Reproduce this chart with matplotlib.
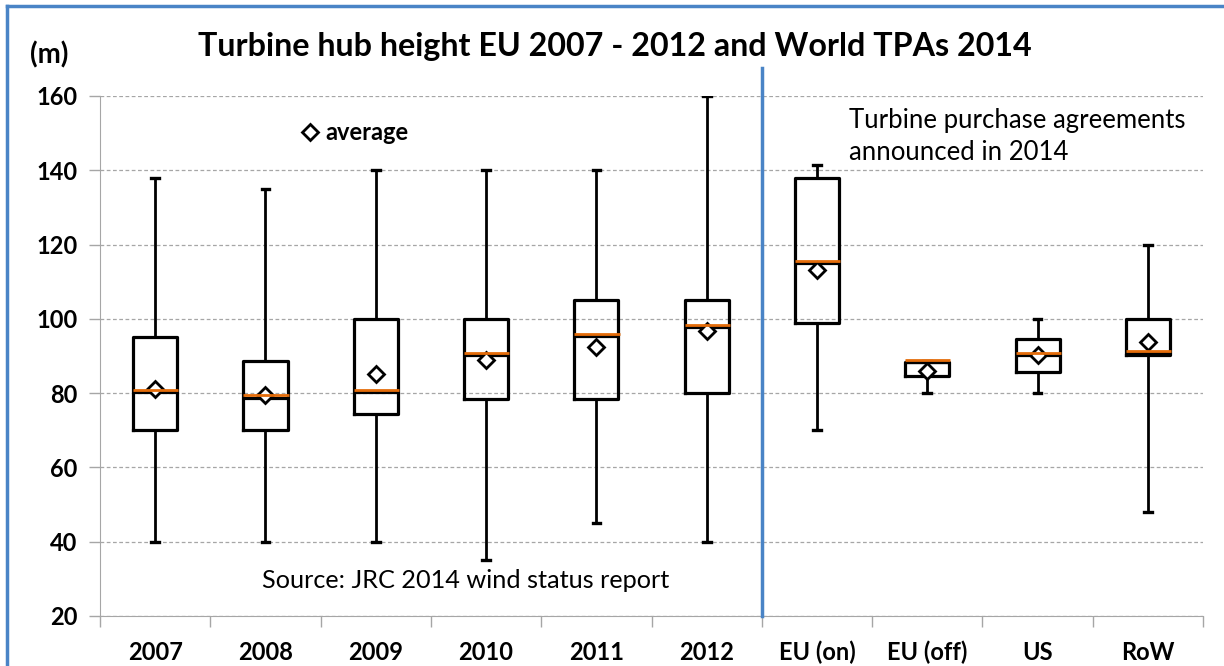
import matplotlib
matplotlib.use("Agg")
import matplotlib.pyplot as plt
from matplotlib.transforms import offset_copy
from matplotlib.lines import Line2D

plt.rcParams["font.family"] = ["Lato", "DejaVu Sans"]

categories = ["2007", "2008", "2009", "2010", "2011", "2012",
              "EU (on)", "EU (off)", "US", "RoW"]
whisker_low = [40, 40, 40, 35, 45, 40, 70, 80, 80, 48]
q1 = [70, 70, 74.3, 78.5, 78.5, 80, 99, 84.5, 85.6, 90.2]
median = [80.2, 78.8, 80.2, 90.2, 95.4, 97.8, 115.1, 88.4, 90.2, 90.8]
q3 = [95, 88.6, 100, 100, 105, 105.2, 137.8, 88.4, 94.6, 100]
whisker_high = [138, 135, 140, 140, 140, 160, 141.4, 88.6, 100, 120]
average = [81, 79.5, 85.2, 89, 92.5, 96.8, 113.1, 86, 90.2, 93.7]
y_ticks = [20, 40, 60, 80, 100, 120, 140, 160]

orange = "#E46C0A"
blue = "#4A84C6"
grey = "#A6A6A6"

stats = []
for i, name in enumerate(categories):
    stats.append({"label": name, "whislo": whisker_low[i], "q1": q1[i], "med": median[i],
                  "q3": q3[i], "whishi": whisker_high[i], "mean": average[i]})

fig = plt.figure(figsize=(12.24, 6.66), dpi=100)
ax = fig.add_axes([0.0817, 0.0751, 0.9012, 0.7808])

pos = list(range(len(categories)))
ax.bxp(stats, positions=pos, widths=0.4, capwidths=0.07, showmeans=True,
       showfliers=False, manage_ticks=False,
       boxprops=dict(color="black", linewidth=2.3),
       whiskerprops=dict(color="black", linewidth=2.0),
       capprops=dict(color="black", linewidth=2.4),
       medianprops=dict(color="black", linewidth=2.3),
       meanprops=dict(marker="D", markersize=8.5, markerfacecolor="white",
                      markeredgecolor="black", markeredgewidth=2.0),
       zorder=3)

# orange median line, sitting just on top of the black one
up = offset_copy(ax.transData, fig=fig, x=0, y=2.2, units="dots")
for p, m in zip(pos, median):
    ax.plot([p - 0.2, p + 0.21], [m, m], color=orange, lw=2.0, transform=up,
            zorder=4, solid_capstyle="butt")

ax.set_xlim(-0.5, 9.5)
ax.set_ylim(20, 160)
ax.set_yticks(y_ticks)
ax.set_yticklabels([str(v) for v in y_ticks], fontsize=17, fontweight="bold")
ax.set_xticks(pos)
ax.set_xticklabels(categories, fontsize=17, fontweight="bold")
ax.tick_params(axis="x", length=0, pad=18)
ax.set_xticks([p - 0.5 for p in pos] + [9.5], minor=True)
ax.tick_params(axis="x", which="minor", length=8, color=grey, width=1)
ax.tick_params(axis="y", length=8, color=grey, width=1, pad=8)

for s in ["top", "right"]:
    ax.spines[s].set_visible(False)
ax.spines["left"].set_color(grey)
ax.spines["bottom"].set_color(grey)
ax.yaxis.grid(True, linestyle=(0, (3, 2)), color=grey, linewidth=0.9)
ax.set_axisbelow(True)

# divider between EU history and 2014 TPAs
ax.plot([5.5, 5.5], [20, 167.5], color=blue, lw=2.5, clip_on=False, zorder=5)

ax.plot([1.40], [150.3], marker="D", markersize=8, markerfacecolor="white",
        markeredgecolor="black", markeredgewidth=2.0, clip_on=False)
ax.text(1.54, 150.3, "average", ha="left", va="center", fontsize=17, fontweight="bold")

ax.text(6.29, 156.8, "Turbine purchase agreements\nannounced in 2014", ha="left",
        va="top", fontsize=18.5, linespacing=1.35)
ax.text(0.97, 29.6, "Source: JRC 2014 wind status report", ha="left", va="center",
        fontsize=18.2)

fig.text(0.502, 0.930, "Turbine hub height EU 2007 - 2012 and World TPAs 2014",
         ha="center", va="center", fontsize=23.2, fontweight="bold")
fig.text(0.0555, 0.917, "(m)", ha="right", va="center", fontsize=20, fontweight="bold")

# blue frame around the chart area (left and top edges visible)
fig.add_artist(Line2D([7 / 1224, 7 / 1224], [0, 1 - 6 / 666], color=blue, lw=2.5))
fig.add_artist(Line2D([7 / 1224, 1], [1 - 6 / 666, 1 - 6 / 666], color=blue, lw=2.5))

fig.savefig("out.png", dpi=100)
